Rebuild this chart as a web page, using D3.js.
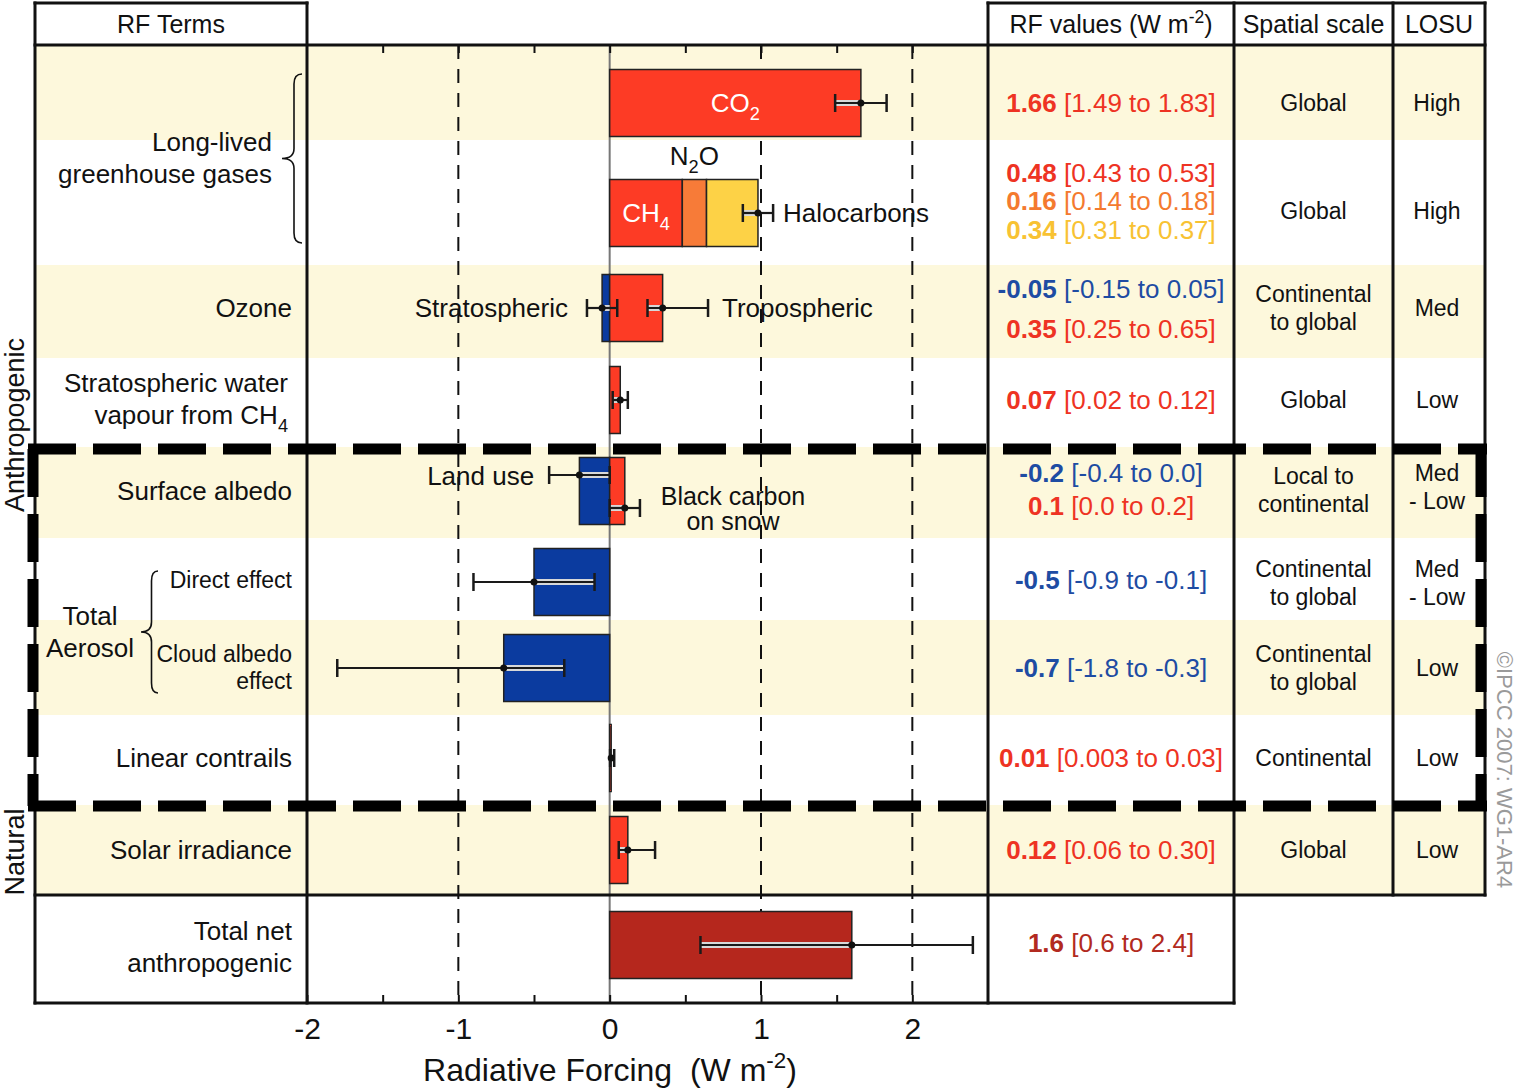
<!DOCTYPE html>
<html>
<head>
<meta charset="utf-8">
<script src="https://cdn.jsdelivr.net/npm/d3@7"></script>
<style>
  body { margin: 0; background: #fff; }
  svg text { font-family: "Liberation Sans", Arial, Helvetica, sans-serif; }
</style>
</head>
<body>
<svg id="chart" width="1516" height="1088"></svg>
<script>
// ---- data ----
// table rows, top to bottom
const rowKeys = ['co2', 'ghg', 'ozone', 'water', 'albedo', 'direct', 'cloud', 'contrails', 'solar', 'total'];

// forcing terms (one bar each), W m-2
const barNames = ['CO2', 'CH4', 'N2O', 'Halocarbons', 'Stratospheric ozone', 'Tropospheric ozone',
  'Stratospheric water vapour', 'Land use', 'Black carbon on snow', 'Direct effect',
  'Cloud albedo effect', 'Linear contrails', 'Solar irradiance', 'Total net anthropogenic'];
const barRow = ['co2', 'ghg', 'ghg', 'ghg', 'ozone', 'ozone', 'water', 'albedo', 'albedo',
  'direct', 'cloud', 'contrails', 'solar', 'total'];
const barBase = [0, 0, 0.48, 0.64, 0, 0, 0, 0, 0, 0, 0, 0, 0, 0];
const barValue = [1.66, 0.48, 0.16, 0.34, -0.05, 0.35, 0.07, -0.2, 0.1, -0.5, -0.7, 0.01, 0.12, 1.6];
const barLo = [1.49, 0.43, 0.14, 0.31, -0.15, 0.25, 0.02, -0.4, 0.0, -0.9, -1.8, 0.003, 0.06, 0.6];
const barHi = [1.83, 0.53, 0.18, 0.37, 0.05, 0.65, 0.12, 0.0, 0.2, -0.1, -0.3, 0.03, 0.30, 2.4];
// the long-lived gases carry one error bar for their stacked total: [best, low, high]
const ghgTotal = [0.98, 0.88, 1.08];

// other columns, one entry per row (total row has none)
const termLabels = ['', 'Long-lived\ngreenhouse gases', 'Ozone', 'Stratospheric water\nvapour from CH_{4}',
  'Surface albedo', 'Direct effect', 'Cloud albedo\neffect', 'Linear contrails', 'Solar irradiance',
  'Total net\nanthropogenic'];
const spatialScale = ['Global', 'Global', 'Continental\nto global', 'Global', 'Local to\ncontinental',
  'Continental\nto global', 'Continental\nto global', 'Continental', 'Global'];
const losu = ['High', 'High', 'Med', 'Low', 'Med\n- Low', 'Med\n- Low', 'Low', 'Low', 'Low'];

const axisTicks = [-2, -1.5, -1, -0.5, 0, 0.5, 1, 1.5, 2];
const gridValues = [-1, 1, 2];

// ---- styles & layout ----
const C = {
  red: '#fd3b25', orange: '#f77b38', yellow: '#fdd246', blue: '#0b3b9f', dark: '#b5271d',
  tRed: '#ee3323', tOrange: '#f47a2f', tYellow: '#f8c233', tBlue: '#1e4ca3', tDark: '#b22a20',
  beige: '#fdf8dc'
};
const barColors = [C.red, C.red, C.orange, C.yellow, C.blue, C.red, C.red, C.blue, C.red,
  C.blue, C.blue, C.red, C.red, C.dark];
const textColors = [C.tRed, C.tRed, C.tOrange, C.tYellow, C.tBlue, C.tRed, C.tRed, C.tBlue, C.tRed,
  C.tBlue, C.tBlue, C.tRed, C.tRed, C.tDark];

const L = { left: 35, terms: 307, plot: 988, rf: 1234, spatial: 1393, right: 1485,
  top: 3, head: 45, totalTop: 895, bottom: 1003 };
const rowEdges = [45, 140, 265, 358, 447, 538, 620, 715, 805, 895, 1003];
const barMid = [103, 213, 308, 400, 491, 582, 668, 758, 850, 945];
const barH = 67;
const rfLineY = [103, 173, 201, 230, 289, 329, 400, 473, 506, 580, 668, 758, 850, 943];
const errShift = { 'Land use': -16, 'Black carbon on snow': 17 };

const svg = d3.select('#chart');
const x = d3.scaleLinear().domain([-2, 2.5]).range([L.terms, L.plot]);
const yRow = d3.scaleOrdinal().domain(rowKeys).range(barMid);

// text with _{sub} and ^{sup}
function rich(sel, str, size) {
  const parts = str.split(/(_\{[^}]*\}|\^\{[^}]*\})/).filter(p => p.length);
  let shift = 0;
  parts.forEach(p => {
    let txt = p, target = 0, fs = size;
    if (p.startsWith('_{')) { txt = p.slice(2, -1); target = 0.28 * size; fs = size * 0.7; }
    if (p.startsWith('^{')) { txt = p.slice(2, -1); target = -0.42 * size; fs = size * 0.7; }
    sel.append('tspan').attr('dy', target - shift).attr('font-size', fs).text(txt);
    shift = target;
  });
  return sel;
}

// multi-line text centred on y
function label(g, str, px, py, opts = {}) {
  const size = opts.size || 26, lh = opts.lh || size * 1.2;
  const lines = str.split('\n');
  lines.forEach((ln, i) => {
    const t = g.append('text')
      .attr('x', px)
      .attr('y', py + (i - (lines.length - 1) / 2) * lh + size * 0.36)
      .attr('font-size', size)
      .attr('text-anchor', opts.anchor || 'middle')
      .attr('fill', opts.fill || '#111');
    rich(t, ln, size);
  });
}

function fmt(v, ref) {
  const dec = s => (String(s).split('.')[1] || '').length;
  return v.toFixed(Math.max(dec(ref), dec(v)));
}

// ---- row bands ----
svg.append('g').selectAll('rect')
  .data(rowKeys.filter((d, i) => i % 2 === 0 && d !== 'total'))
  .join('rect')
  .attr('x', L.left).attr('width', L.right - L.left)
  .attr('y', d => rowEdges[rowKeys.indexOf(d)])
  .attr('height', d => rowEdges[rowKeys.indexOf(d) + 1] - rowEdges[rowKeys.indexOf(d)])
  .attr('fill', C.beige);

// ---- grid ----
svg.append('g').selectAll('line')
  .data(gridValues).join('line')
  .attr('x1', d => x(d)).attr('x2', d => x(d))
  .attr('y1', L.head).attr('y2', L.bottom)
  .attr('stroke', '#111').attr('stroke-width', 2).attr('stroke-dasharray', '14 10');
svg.append('line')
  .attr('x1', x(0)).attr('x2', x(0)).attr('y1', L.head).attr('y2', L.bottom)
  .attr('stroke', '#777').attr('stroke-width', 2);

// ---- bars ----
const bars = barNames.map((n, i) => ({ name: n, row: barRow[i], base: barBase[i], v: barValue[i],
  lo: barLo[i], hi: barHi[i], color: barColors[i], tcolor: textColors[i] }));

svg.append('g').selectAll('rect')
  .data(bars).join('rect')
  .attr('x', d => x(Math.min(d.base, d.base + d.v)))
  .attr('width', d => Math.abs(x(d.base + d.v) - x(d.base)))
  .attr('y', d => yRow(d.row) - barH / 2)
  .attr('height', barH)
  .attr('fill', d => d.color)
  .attr('stroke', '#222').attr('stroke-width', 1.5);

// ---- error bars ----
const errs = bars.filter(d => d.row !== 'ghg')
  .map(d => ({ name: d.name, row: d.row, mid: d.base + d.v, lo: d.lo, hi: d.hi, base: d.base }));
errs.splice(1, 0, { name: 'Long-lived total', row: 'ghg', mid: ghgTotal[0], lo: ghgTotal[1], hi: ghgTotal[2], base: 0 });

const eg = svg.append('g').selectAll('g')
  .data(errs).join('g')
  .attr('transform', d => `translate(0,${yRow(d.row) + (errShift[d.name] || 0)})`);
// part of the range that lies on top of the bar gets a light halo
eg.each(function (d) {
  const g = d3.select(this);
  const b0 = Math.min(d.base, d.mid), b1 = Math.max(d.base, d.mid);
  const i0 = Math.max(d.lo, b0), i1 = Math.min(d.hi, b1);
  if (i1 > i0) {
    g.append('line').attr('x1', x(i0)).attr('x2', x(i1))
      .attr('stroke', '#d8d8d8').attr('stroke-width', 6);
  }
});
eg.append('line')
  .attr('x1', d => x(d.lo)).attr('x2', d => x(d.hi))
  .attr('stroke', '#1a1a1a').attr('stroke-width', 2.2);
eg.selectAll('.wh').data(d => [d.lo, d.hi]).join('line')
  .attr('x1', v => x(v)).attr('x2', v => x(v))
  .attr('y1', -9).attr('y2', 9)
  .attr('stroke', '#1a1a1a').attr('stroke-width', 2.5);
eg.append('circle')
  .attr('cx', d => x(d.mid)).attr('r', 3.5).attr('fill', '#111');

// ---- axes ----
const axTop = svg.append('g').attr('transform', `translate(0,${L.head})`)
  .call(d3.axisTop(x).tickValues(axisTicks.slice(1)).tickSize(-8).tickFormat(''));
const axBot = svg.append('g').attr('transform', `translate(0,${L.bottom})`)
  .call(d3.axisBottom(x).tickValues(axisTicks).tickSize(-8).tickPadding(15)
    .tickFormat(d => Number.isInteger(d) ? String(d) : ''));
[axTop, axBot].forEach(a => {
  a.select('.domain').remove();
  a.selectAll('line').attr('stroke', '#111').attr('stroke-width', 2);
});
axBot.selectAll('text').attr('font-size', 30).attr('fill', '#111')
  .attr('font-family', '"Liberation Sans", Arial, sans-serif');

const title = svg.append('text').attr('x', 610).attr('y', 1081).attr('font-size', 32)
  .attr('text-anchor', 'middle').attr('fill', '#111').attr('xml:space', 'preserve');
rich(title, 'Radiative Forcing  (W m^{-2})', 32);

// ---- table rules ----
const rules = [
  [L.left, L.top, L.terms, L.top], [L.plot, L.top, L.right, L.top],
  [L.left, L.head, L.right, L.head], [L.left, L.totalTop, L.right, L.totalTop],
  [L.left, L.bottom, L.rf, L.bottom],
  [L.left, L.top, L.left, L.bottom], [L.terms, L.top, L.terms, L.bottom],
  [L.plot, L.top, L.plot, L.bottom], [L.rf, L.top, L.rf, L.bottom],
  [L.spatial, L.top, L.spatial, L.totalTop], [L.right, L.top, L.right, L.totalTop]
];
svg.append('g').selectAll('line').data(rules).join('line')
  .attr('x1', d => d[0]).attr('y1', d => d[1]).attr('x2', d => d[2]).attr('y2', d => d[3])
  .attr('stroke', '#111').attr('stroke-width', 3).attr('stroke-linecap', 'square');

// ---- headers ----
const tg = svg.append('g');
label(tg, 'RF Terms', (L.left + L.terms) / 2, 24, { size: 25 });
label(tg, 'RF values (W m^{-2})', (L.plot + L.rf) / 2, 24, { size: 25 });
label(tg, 'Spatial scale', (L.rf + L.spatial) / 2, 24, { size: 25 });
label(tg, 'LOSU', (L.spatial + L.right) / 2, 24, { size: 25 });

// ---- RF terms column ----
const termX = 292;
termLabels.forEach((t, i) => {
  if (!t) return;
  const key = rowKeys[i];
  let px = termX, py = yRow(key), size = 26, lh = 32;
  if (key === 'ghg') { px = 272; py = 158; }
  if (key === 'water') { px = 288; py = 399; }
  if (key === 'direct') { size = 23; py = 580; }
  if (key === 'cloud') { size = 23; py = 667; lh = 27; }
  if (key === 'total') { py = 947; }
  label(tg, t, px, py, { anchor: 'end', size, lh });
});
label(tg, 'Total\nAerosol', 90, 632, { size: 26, lh: 32 });

function brace(xTip, xEnd, y0, y1) {
  const xm = (xTip + xEnd) / 2 + 2, yc = (y0 + y1) / 2, r = 10;
  return `M${xEnd},${y0} Q${xm},${y0} ${xm},${y0 + r} L${xm},${yc - r} Q${xm},${yc} ${xTip},${yc}` +
    ` Q${xm},${yc} ${xm},${yc + r} L${xm},${y1 - r} Q${xm},${y1} ${xEnd},${y1}`;
}
svg.append('path').attr('d', brace(282, 302, 74, 243))
  .attr('fill', 'none').attr('stroke', '#111').attr('stroke-width', 1.6);
svg.append('path').attr('d', brace(141, 158, 571, 693))
  .attr('fill', 'none').attr('stroke', '#111').attr('stroke-width', 1.6);

// ---- labels inside the plot ----
const byName = n => bars.find(d => d.name === n);
const co2 = byName('CO2'), ch4 = byName('CH4'), n2o = byName('N2O');
label(tg, 'CO_{2}', x(co2.v / 2), yRow('co2'), { fill: '#fff' });
label(tg, 'CH_{4}', x(ch4.v / 2), yRow('ghg'), { fill: '#fff' });
label(tg, 'N_{2}O', x(n2o.base + n2o.v / 2), 156);
label(tg, 'Halocarbons', x(ghgTotal[2]) + 10, yRow('ghg'), { anchor: 'start' });
label(tg, 'Stratospheric', x(byName('Stratospheric ozone').lo) - 19, yRow('ozone'), { anchor: 'end' });
label(tg, 'Tropospheric', x(byName('Tropospheric ozone').hi) + 14, yRow('ozone'), { anchor: 'start' });
label(tg, 'Land use', x(byName('Land use').lo) - 15, yRow('albedo') - 15, { anchor: 'end' });
label(tg, 'Black carbon\non snow', 733, yRow('albedo') + 17, { size: 25, lh: 25 });

// ---- RF values column ----
const rfX = (L.plot + L.rf) / 2;
bars.forEach((d, i) => {
  const t = tg.append('text').attr('x', rfX).attr('y', rfLineY[i] + 26 * 0.36)
    .attr('text-anchor', 'middle').attr('font-size', 26).attr('fill', d.tcolor)
    .attr('xml:space', 'preserve');
  t.append('tspan').attr('font-weight', 'bold').text(String(d.v));
  t.append('tspan').text(` [${fmt(d.lo, d.v)} to ${fmt(d.hi, d.v)}]`);
});

// ---- spatial scale & LOSU ----
const sideY = { ghg: 211, albedo: 490, direct: 583 };
spatialScale.forEach((s, i) => {
  const key = rowKeys[i];
  const py = sideY[key] || yRow(key);
  label(tg, s, (L.rf + L.spatial) / 2, py, { size: 23, lh: 28 });
  label(tg, losu[i], (L.spatial + L.right) / 2 - 2, key === 'albedo' ? 487 : py, { size: 23, lh: 28 });
});

// ---- efficacy box (heavy dashed frame) ----
const box = [[28, 449, 1487, 449], [28, 806, 1487, 806], [33, 449, 33, 806], [1481, 449, 1481, 806]];
svg.append('g').selectAll('line').data(box).join('line')
  .attr('x1', d => d[0]).attr('y1', d => d[1]).attr('x2', d => d[2]).attr('y2', d => d[3])
  .attr('stroke', '#000').attr('stroke-width', 11).attr('stroke-dasharray', '48 17');

// ---- side labels ----
svg.append('text').attr('transform', 'translate(14,425) rotate(-90)')
  .attr('text-anchor', 'middle').attr('dy', '0.36em').attr('font-size', 27).attr('fill', '#111')
  .text('Anthropogenic');
svg.append('text').attr('transform', 'translate(14,852) rotate(-90)')
  .attr('text-anchor', 'middle').attr('dy', '0.36em').attr('font-size', 27).attr('fill', '#111')
  .text('Natural');
svg.append('text').attr('transform', 'translate(1505,770) rotate(90)')
  .attr('text-anchor', 'middle').attr('dy', '0.36em').attr('font-size', 22).attr('fill', '#9a9a9a')
  .text('©IPCC 2007: WG1-AR4');
</script>
</body>
</html>
